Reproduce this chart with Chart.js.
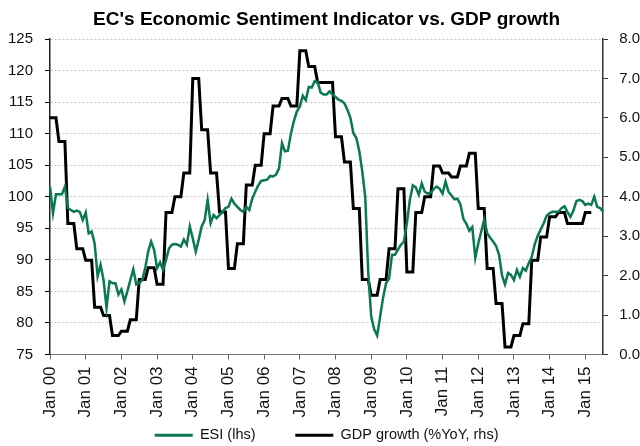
<!DOCTYPE html>
<html>
<head>
<meta charset="utf-8">
<script src="https://cdn.jsdelivr.net/npm/chart.js@4.4.1/dist/chart.umd.min.js"></script>
<style>
  html, body { margin: 0; padding: 0; background: #fff; overflow: hidden; }
  canvas { display: block; }
</style>
</head>
<body>
<canvas id="chart" width="640" height="446"></canvas>
<script>
// monthly ESI, Jan 2000 - Jul 2015 (one row per year)
const esi = [
  101.6, 97.4, 100.4, 100.4, 100.4, 101.6, 98.2, 97.9, 97.6, 97.8, 97.6, 96.3,
  97.5, 94.2, 94.5, 92.6, 87.4, 89.2, 86.8, 82.4, 86.6, 86.3, 86.3, 84.5,
  85.3, 83.4, 85.0, 86.8, 88.5, 86.1, 86.3, 86.8, 88.7, 91.3, 92.9, 91.6,
  88.7, 89.6, 88.4, 90.0, 91.8, 92.4, 92.5, 92.4, 92.1, 93.2, 92.4, 95.3,
  93.4, 91.3, 93.2, 95.3, 96.3, 99.5, 95.8, 97.1, 96.6, 97.1, 97.6, 98.2,
  98.4, 99.7, 98.9, 98.4, 97.9, 97.6, 98.4, 97.9, 99.7, 100.8, 101.8, 102.5,
  102.6, 102.7, 103.3, 103.2, 103.5, 104.5, 108.5, 107.2, 107.3, 110.0, 112.0, 113.5,
  114.3, 116.0, 115.3, 117.4, 117.3, 118.3, 118.2, 116.5, 116.2, 116.2, 116.7, 116.2,
  115.8, 115.4, 115.2, 114.8, 113.8, 112.5, 110.1, 109.3, 107.2, 104.0, 100.0, 88.0,
  81.0, 79.0, 78.0, 81.0, 84.0, 86.3, 87.0, 90.8, 90.8, 91.6, 92.4, 92.9,
  95.8, 99.5, 101.8, 101.5, 100.3, 102.1, 100.8, 100.5, 100.6, 101.2, 101.6, 101.3,
  100.5, 102.4, 100.8, 100.2, 99.6, 99.7, 98.8, 96.5, 95.7, 94.6, 95.2, 90.3,
  92.6, 94.5, 96.4, 94.2, 93.5, 92.9, 92.2, 90.8, 87.5, 86.1, 87.9, 87.6,
  86.8, 88.4, 87.3, 88.7, 88.3, 89.5, 90.5, 92.5, 93.8, 94.8, 95.8, 97.0,
  97.4, 97.6, 97.6, 97.6, 98.2, 98.5, 97.6, 96.8, 97.8, 99.3, 99.5, 99.3,
  98.7, 98.9, 98.7, 100.0, 98.4, 98.2, 97.6
];

// quarterly GDP growth %YoY, Q1 2000 - Q1 2015
const gdpQuarterly = [
  6.0, 5.4, 3.32, 2.68,
  2.39, 1.2, 0.99, 0.48,
  0.59, 0.88, 1.9, 2.2,
  1.78, 3.6, 4.0, 4.6,
  7.0, 5.7, 4.6, 3.61,
  2.18, 2.81, 4.3, 4.8,
  5.6, 6.3, 6.49, 6.3,
  7.7, 7.3, 6.9, 6.9,
  5.52, 4.88, 3.7, 1.9,
  1.5, 1.9, 2.68, 4.2,
  2.09, 3.6, 4.0, 4.78,
  4.6, 4.5, 4.78, 5.1,
  3.7, 2.18, 1.29, 0.19,
  0.48, 0.78, 2.39, 2.98,
  3.49, 3.6, 3.32, 3.32,
  3.6
];

const monthNames = ["Jan", "Feb", "Mar", "Apr", "May", "Jun", "Jul", "Aug", "Sep", "Oct", "Nov", "Dec"];
const leftTicks = [75, 125, 5];
const rightTicks = [0, 8, 1];

const months = [];
for (let y = 2000; y <= 2015; y++) {
  for (let m = 0; m < 12; m++) {
    if (months.length >= esi.length) break;
    months.push(monthNames[m] + " " + String(y).slice(2));
  }
}

// each quarter's value held for its three months
const gdp = months.map((_, i) => {
  const q = Math.floor(i / 3);
  return q < gdpQuarterly.length ? gdpQuarterly[q] : null;
});

const green = "#0a7a4e";
const txt = "#111";
const font = "'Liberation Sans', Arial, sans-serif";

Chart.defaults.font.family = font;
Chart.defaults.color = txt;

new Chart(document.getElementById("chart"), {
  type: "line",
  data: {
    labels: months,
    datasets: [
      {
        label: "ESI (lhs)         ",
        data: esi,
        borderColor: green,
        backgroundColor: green,
        borderWidth: 2.5,
        pointRadius: 0,
        yAxisID: "y"
      },
      {
        label: "GDP growth (%YoY, rhs)",
        data: gdp,
        borderColor: "#000",
        backgroundColor: "#000",
        borderWidth: 3,
        pointRadius: 0,
        yAxisID: "y1"
      }
    ]
  },
  options: {
    responsive: false,
    animation: false,
    devicePixelRatio: 1,
    layout: { padding: { left: -4, right: -11, top: 0, bottom: -6.5 } },
    plugins: {
      title: {
        display: true,
        fullSize: false,
        text: "EC's Economic Sentiment Indicator vs. GDP growth",
        color: "#000",
        font: { size: 19, weight: "bold" },
        padding: { top: 8, bottom: 8.2 }
      },
      legend: {
        position: "bottom",
        fullSize: false,
        labels: {
          boxWidth: 38,
          boxHeight: 3,
          padding: 3.5,
          color: txt,
          font: { size: 14.5 },
          generateLabels: chart =>
            Chart.defaults.plugins.legend.labels.generateLabels(chart).map(l => ({ ...l, lineWidth: 0 }))
        }
      },
      tooltip: { enabled: false }
    },
    scales: {
      x: {
        type: "category",
        offset: false,
        grid: {
          drawOnChartArea: false,
          tickLength: 5,
          tickColor: ctx => (ctx.index % 12 === 0 ? "#666" : "transparent")
        },
        border: { color: "#777", width: 1 },
        ticks: {
          autoSkip: false,
          minRotation: 90,
          maxRotation: 90,
          padding: 7,
          font: { size: 17 },
          callback: (v, i) => (i % 12 === 0 ? months[i] : "")
        }
      },
      y: {
        position: "left",
        min: leftTicks[0],
        max: leftTicks[1],
        ticks: { stepSize: leftTicks[2], padding: 12, font: { size: 15 } },
        grid: { color: "#c4c4c4", tickColor: "#000", tickLength: 5 },
        border: { color: "#222", width: 1.5, dash: [2, 2] }
      },
      y1: {
        position: "right",
        min: rightTicks[0],
        max: rightTicks[1],
        ticks: {
          stepSize: rightTicks[2],
          padding: 11,
          font: { size: 15 },
          callback: v => v.toFixed(1)
        },
        grid: { drawOnChartArea: false, tickColor: "#333", tickLength: 5 },
        border: { color: "#333", width: 1.5 }
      }
    }
  }
});
</script>
</body>
</html>
